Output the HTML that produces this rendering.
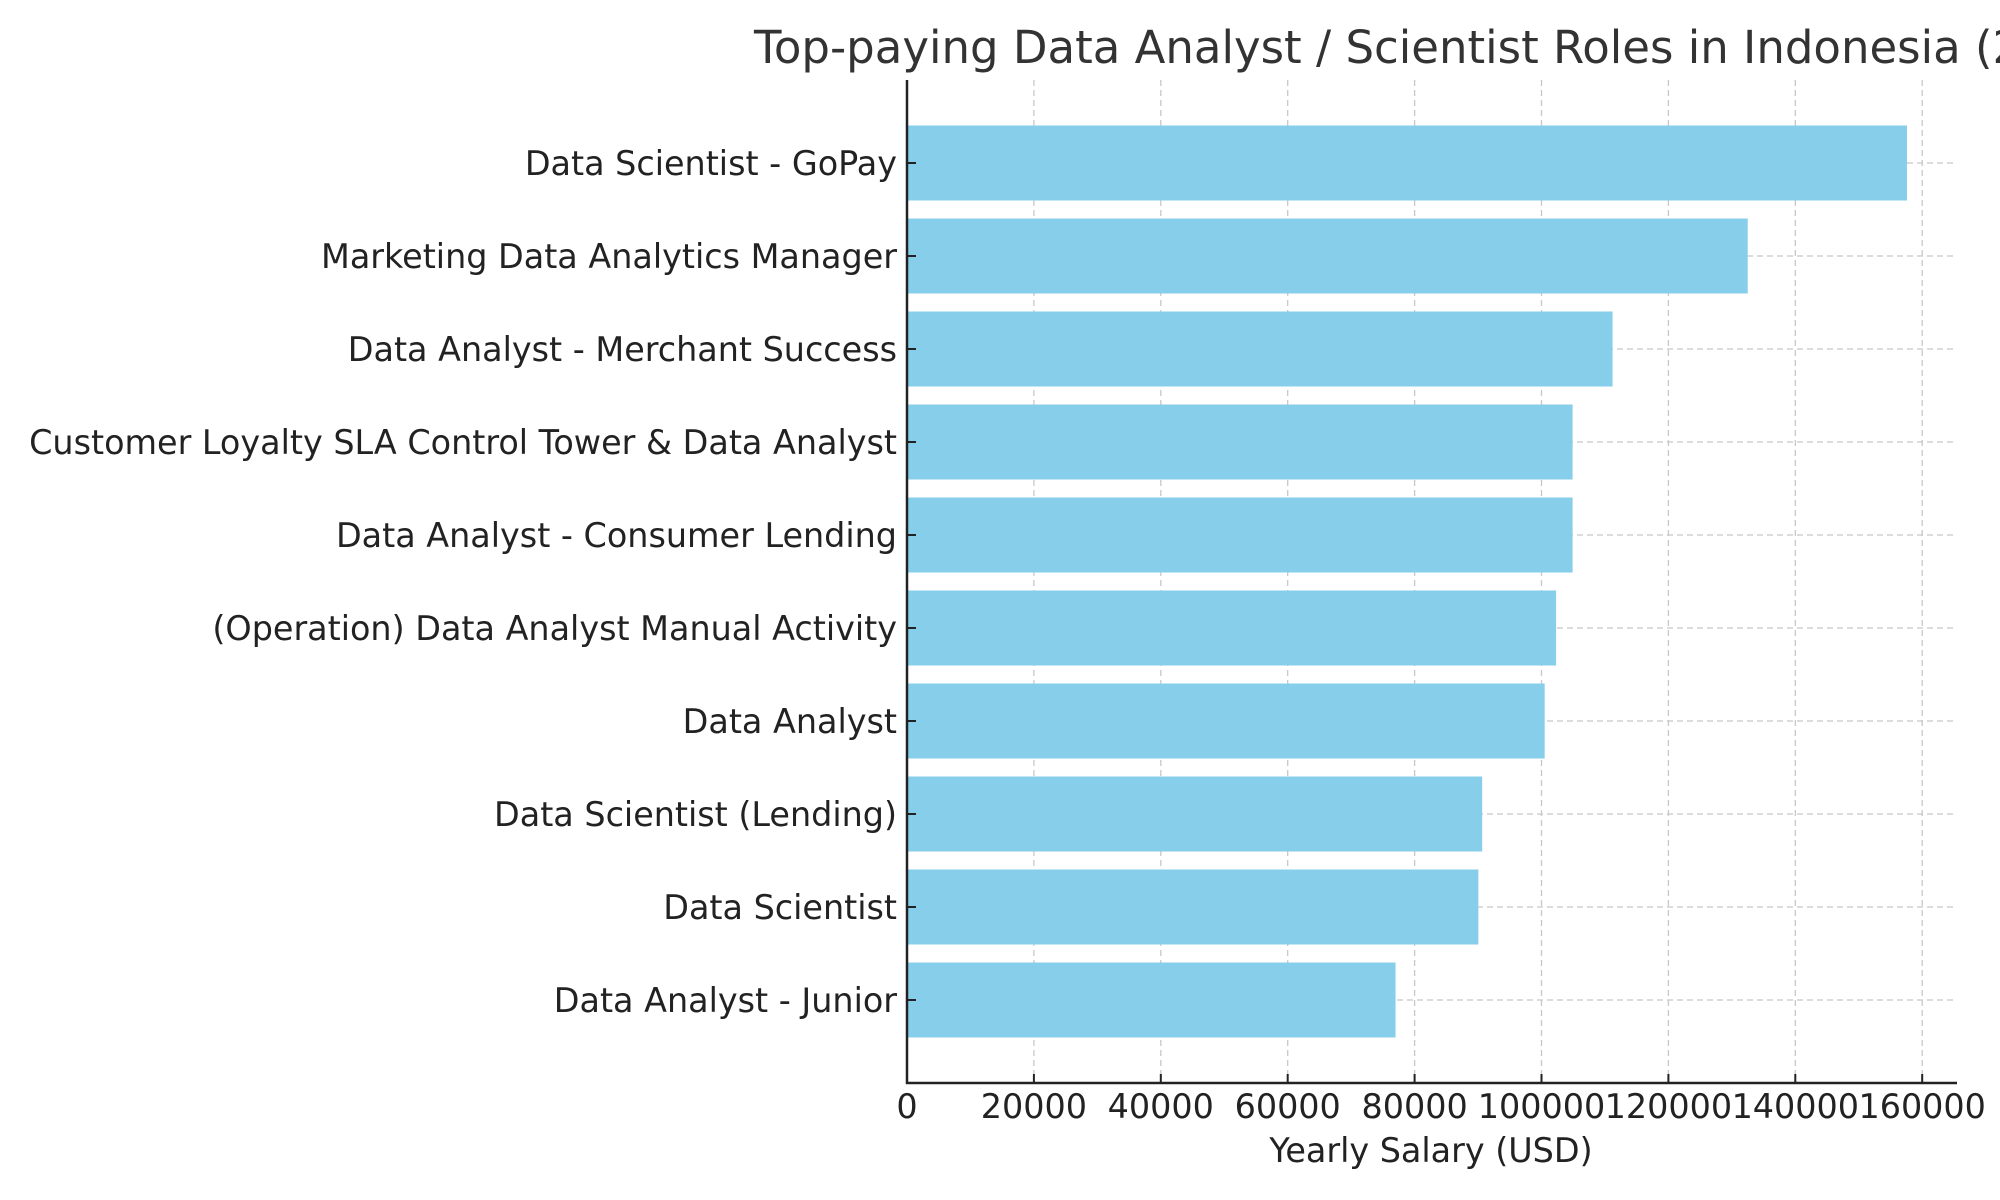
<!DOCTYPE html>
<html><head><meta charset="utf-8"><style>
html,body{margin:0;padding:0;background:#fff;}
svg{display:block;font-family:"DejaVu Sans","Liberation Sans",sans-serif;}
</style></head><body>
<svg id="chart" width="2000" height="1200" viewBox="0 0 2000 1200">
<rect width="2000" height="1200" fill="#fff"/>
<text x="754" y="63" font-size="45" fill="#333">Top-paying Data Analyst / Scientist Roles in Indonesia (2023)</text>
<g id="grid"></g><g id="bars"></g><g id="axes"></g>
<text x="1431" y="1162" font-size="33.4" fill="#222" text-anchor="middle">Yearly Salary (USD)</text>
</svg>
<script>
const categories = ["Data Scientist - GoPay","Marketing Data Analytics Manager","Data Analyst - Merchant Success","Customer Loyalty SLA Control Tower & Data Analyst","Data Analyst - Consumer Lending","(Operation) Data Analyst Manual Activity","Data Analyst","Data Scientist (Lending)","Data Scientist","Data Analyst - Junior"];
const salaries = [157600,132500,111200,104900,104900,102300,100500,90650,90050,77000];
const xTicks = [0,20000,40000,60000,80000,100000,120000,140000,160000];

const NS="http://www.w3.org/2000/svg";
const x0=907, pxPer=126.9/20000, xRight=1957, yTop=80, yBottom=1083, y0=163, step=93, barH=75;
const xs=v=>x0+v*pxPer;
const ys=i=>y0+i*step;
function mk(tag,attrs,parent){const e=document.createElementNS(NS,tag);for(const k in attrs)e.setAttribute(k,attrs[k]);parent.appendChild(e);return e;}
const grid=document.getElementById('grid'),bars=document.getElementById('bars'),axes=document.getElementById('axes');
xTicks.forEach(t=>{
  const g=mk('line',{x1:xs(t),x2:xs(t),y1:yTop,y2:yBottom,stroke:'#c8c8c8','stroke-width':1.3,'stroke-dasharray':'6,4'},grid);
  
  
  const tk=mk('line',{x1:xs(t),x2:xs(t),y1:yBottom,y2:yBottom-9,stroke:'#222','stroke-width':2},axes);
  
  
  const lb=mk('text',{x:xs(t),y:1118,'font-size':33.4,fill:'#222','text-anchor':'middle'},axes);
  lb.textContent=String(t);
  
  
});
categories.forEach((c,i)=>{
  const y=ys(i);
  const g=mk('line',{x1:x0,x2:xRight,y1:y,y2:y,stroke:'#c8c8c8','stroke-width':1.3,'stroke-dasharray':'6,4'},grid);
  
  
  const b=mk('rect',{x:x0,y:y-barH/2,width:xs(salaries[i])-x0,height:barH,fill:'#87ceeb'},bars);
  
  
  const tk=mk('line',{x1:x0,x2:x0+9,y1:y,y2:y,stroke:'#222','stroke-width':2},axes);
  
  
  const lb=mk('text',{x:897,y:y+12,'font-size':33.4,fill:'#222','text-anchor':'end'},axes);
  lb.textContent=c;
  
  
});
const la=mk('line',{x1:x0,x2:x0,y1:yTop,y2:yBottom+1,stroke:'#222','stroke-width':2.5},axes);


const ba=mk('line',{x1:x0-1,x2:xRight,y1:yBottom,y2:yBottom,stroke:'#222','stroke-width':2.5},axes);


</script>
</body></html>
